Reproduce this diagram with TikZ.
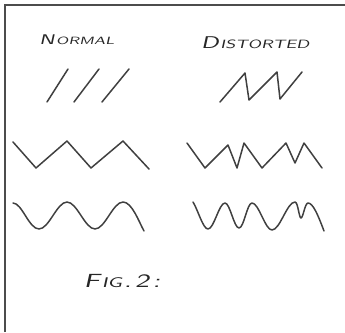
\documentclass[tikz,border=0pt]{standalone}
\begin{document}
\begin{tikzpicture}[x=1pt,y=-1pt,
  wave/.style={draw=black!75, line width=1.5pt, line join=round, line cap=round},
  frameline/.style={draw=black!70, line width=1.6pt},
  label/.style={text=black!85, font=\sffamily, inner sep=0pt, xslant=0.22, transform shape}]
\useasboundingbox (0,0) rectangle (345,332);
% frame (top and left edges only)
\draw[frameline] (5,332) -- (5,5) -- (345,5);
% titles
\node[label, anchor=west, xscale=1.6] (normal) at (40,40) {{\fontsize{14}{14}\selectfont N}\kern1pt{\fontsize{10.5}{10.5}\selectfont ORMAL}};
\node[label, anchor=west, xscale=1.55] (distorted) at (202,43) {{\fontsize{17}{17}\selectfont D}\kern1pt{\fontsize{12}{12}\selectfont ISTORTED}};
\node[label, anchor=west, xscale=1.6] (fig) at (85,281) {{\fontsize{19}{19}\selectfont F}\kern1pt{\fontsize{14}{14}\selectfont IG}\kern1pt{\fontsize{19}{19}\selectfont .\kern2pt 2\kern2pt:}};
% normal slashes
\draw[wave] (47,102) -- (68,69);
\draw[wave] (74,102) -- (99,69);
\draw[wave] (102,102) -- (129,69);
% distorted slashes
\draw[wave] (220,102) -- (245,73) -- (249,100) -- (277,72) -- (280,99) -- (302,72);
% normal triangle wave
\draw[wave] (13,142) -- (36,168) -- (67,141) -- (91,168) -- (123,141) -- (149,169);
% distorted triangle wave
\draw[wave] (187,143) -- (205,168) -- (228,145) -- (237,168) -- (244,143) -- (262,168) -- (286,143) -- (295,163) -- (304,143) -- (322,168);
% normal sine wave
\draw[wave] (13,203) .. controls (22,203) and (29,229) .. (39,229)
  .. controls (49,229) and (57,202) .. (67,202)
  .. controls (77,202) and (85,229) .. (95,229)
  .. controls (105,229) and (113,202) .. (123,202)
  .. controls (132,202) and (139,222) .. (144,231);
% distorted sine wave
\draw[wave] (193,202) .. controls (198,210) and (203,229) .. (208,229)
  .. controls (214,229) and (219,203) .. (225,203)
  .. controls (230,203) and (234,228) .. (239,228)
  .. controls (244,228) and (247,203) .. (252,203)
  .. controls (259,203) and (265,230) .. (272,230)
  .. controls (280,230) and (287,202) .. (295,202)
  .. controls (298,202) and (299,218) .. (301,218)
  .. controls (303,218) and (305,203) .. (308,203)
  .. controls (313,203) and (318,215) .. (324,231);
\end{tikzpicture}
\end{document}
